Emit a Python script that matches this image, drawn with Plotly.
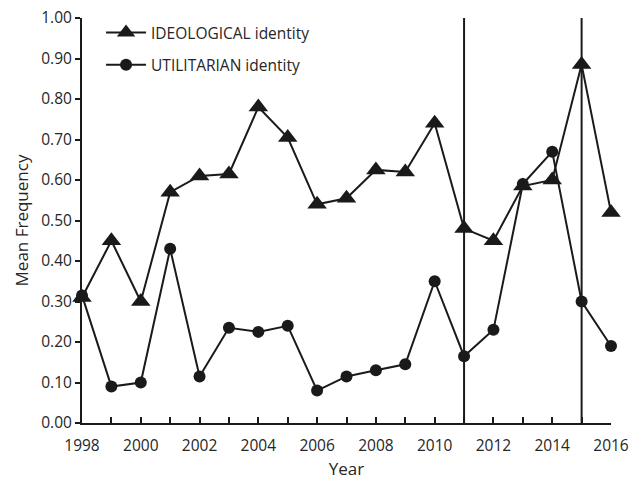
import plotly.graph_objects as go

years = list(range(1998, 2017))
ideological = [0.31, 0.45, 0.30, 0.57, 0.61, 0.615, 0.78, 0.705, 0.54, 0.555,
               0.625, 0.62, 0.74, 0.48, 0.45, 0.585, 0.60, 0.885, 0.52]
utilitarian = [0.315, 0.09, 0.10, 0.43, 0.115, 0.235, 0.225, 0.24, 0.08, 0.115,
               0.13, 0.145, 0.35, 0.165, 0.23, 0.59, 0.67, 0.30, 0.19]
event_years = [2011, 2015]
y_ticks = [i / 10 for i in range(11)]
x_tick_labels = list(range(1998, 2017, 2))

ink = "#1a1a1a"
txt = "#262626"
font = "Open Sans, Lato, sans-serif"

fig = go.Figure()
fig.add_trace(go.Scatter(
    x=years, y=ideological, mode="lines+markers", name="IDEOLOGICAL identity",
    legendgroup="a",
    line=dict(color=ink, width=2),
    marker=dict(symbol="triangle-up", size=17, color=ink),
    cliponaxis=False,
))
fig.add_trace(go.Scatter(
    x=years, y=utilitarian, mode="lines+markers", name="UTILITARIAN identity",
    legendgroup="b",
    line=dict(color=ink, width=2),
    marker=dict(symbol="circle", size=12, color=ink),
    cliponaxis=False,
))

for ey in event_years:
    fig.add_shape(type="line", xref="x", yref="y", x0=ey, x1=ey, y0=0, y1=1.005,
                  line=dict(color=ink, width=2), layer="below")

fig.update_layout(
    width=641, height=481,
    margin=dict(l=82, r=30, t=18, b=58, autoexpand=False),
    paper_bgcolor="white", plot_bgcolor="white",
    font=dict(family=font, size=15.5, color=txt),
    showlegend=True,
    legend=dict(x=0.036, y=1.005, xanchor="left", yanchor="top",
                bgcolor="rgba(0,0,0,0)", font=dict(size=15.5, color=txt),
                itemwidth=40, traceorder="grouped", tracegroupgap=9),
    xaxis=dict(
        range=[1998, 2016], showgrid=False, zeroline=False,
        showline=True, linecolor=ink, linewidth=2,
        ticks="inside", ticklen=6, tickwidth=2, tickcolor=ink,
        tickmode="array", tickvals=years,
        ticktext=[str(y) if y in x_tick_labels else "" for y in years],
        ticklabelstandoff=7,
        title=dict(text="Year", font=dict(size=17), standoff=9),
        automargin=False,
    ),
    yaxis=dict(
        range=[0, 1.0], showgrid=False, zeroline=False,
        showline=True, linecolor=ink, linewidth=2,
        ticks="outside", ticklen=5, tickwidth=2, tickcolor=ink,
        tickmode="array", tickvals=y_ticks,
        ticktext=[f"{v:.2f}" for v in y_ticks],
        title=dict(text="Mean Frequency", font=dict(size=17), standoff=8),
        automargin=False,
    ),
)

fig.write_html("out.html", config={"displayModeBar": False},
               post_script="document.body.style.margin='0';")
